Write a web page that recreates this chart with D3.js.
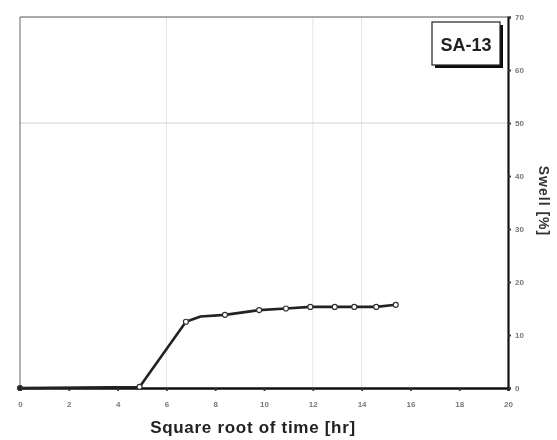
<!DOCTYPE html>
<html>
<head>
<meta charset="utf-8">
<script src="https://cdn.jsdelivr.net/npm/d3@7"></script>
<style>
  html, body { margin: 0; padding: 0; background: #fff; }
  svg { display: block; font-family: "Liberation Sans", Arial, sans-serif; }
</style>
</head>
<body>
<svg id="chart" width="557" height="440"></svg>
<script>
// Swell test, sample SA-13: swell (%) against square root of time (hr)
const sqrtTime = [0, 4.9, 6.8, 7.4, 8.4, 9.8, 10.9, 11.9, 12.9, 13.7, 14.6, 15.4];
const swell    = [0, 0.2, 12.5, 13.5, 13.8, 14.7, 15.0, 15.3, 15.3, 15.3, 15.3, 15.7];
const markerShown = [true, true, true, false, true, true, true, true, true, true, true, true];
const xTicks = [0, 2, 4, 6, 8, 10, 12, 14, 16, 18, 20];
const yTicks = [0, 10, 20, 30, 40, 50, 60, 70];
const gridX = [6, 12, 14];
const gridY = [50];
const sampleName = "SA-13";
const xTitle = "Square root of time [hr]";
const yTitle = "Swell [%]";

const svg = d3.select("#chart");
const plotLeft = 20, plotRight = 508, plotTop = 17, plotBottom = 388;

const x = d3.scaleLinear().domain([0, 20]).range([plotLeft, plotRight]);
const y = d3.scaleLinear().domain([0, 70]).range([plotBottom, plotTop]);

const soft = svg.append("defs").append("filter").attr("id", "soft");
soft.append("feGaussianBlur").attr("stdDeviation", 0.5);

const g = svg.append("g").attr("filter", "url(#soft)");

// faint grid lines
g.selectAll(".gx").data(gridX).join("line")
  .attr("x1", d => x(d)).attr("x2", d => x(d))
  .attr("y1", plotTop).attr("y2", plotBottom)
  .attr("stroke", "#e6e6e6").attr("stroke-width", 1);
g.selectAll(".gy").data(gridY).join("line")
  .attr("x1", plotLeft).attr("x2", plotRight)
  .attr("y1", d => y(d)).attr("y2", d => y(d))
  .attr("stroke", "#d0d0d0").attr("stroke-width", 1);

// frame: top and left edges
g.append("line").attr("x1", plotLeft).attr("x2", plotRight).attr("y1", plotTop).attr("y2", plotTop)
  .attr("stroke", "#555").attr("stroke-width", 1.2);
g.append("line").attr("x1", plotLeft).attr("x2", plotLeft).attr("y1", plotTop).attr("y2", plotBottom)
  .attr("stroke", "#666").attr("stroke-width", 1);

// bottom axis
const xAxis = g.append("g").attr("transform", `translate(0,${plotBottom})`)
  .call(d3.axisBottom(x).tickValues(xTicks).tickSize(3).tickPadding(10).tickFormat(d3.format("d")));
xAxis.select(".domain").attr("stroke", "#111").attr("stroke-width", 2.4);
xAxis.selectAll(".tick line").attr("stroke", "#333").attr("stroke-width", 1.8);
xAxis.selectAll("text").attr("font-size", 8).attr("font-weight", "bold").attr("fill", "#777");

// right axis
const yAxis = g.append("g").attr("transform", `translate(${plotRight},0)`)
  .call(d3.axisRight(y).tickValues(yTicks).tickSize(3).tickPadding(4).tickFormat(d3.format("d")));
yAxis.select(".domain").attr("stroke", "#111").attr("stroke-width", 2.2);
yAxis.selectAll(".tick line").attr("stroke", "#333").attr("stroke-width", 1.8);
yAxis.selectAll("text").attr("font-size", 8).attr("font-weight", "bold").attr("fill", "#777");

// data line and markers
const line = d3.line().x((d, i) => x(sqrtTime[i])).y(d => y(d));
g.append("path").datum(swell)
  .attr("d", line)
  .attr("fill", "none").attr("stroke", "#222").attr("stroke-width", 2.6)
  .attr("stroke-linejoin", "round");
const pts = swell.map((v, i) => ({ t: sqrtTime[i], v, i })).filter(p => markerShown[p.i]);
g.selectAll(".pt").data(pts).join("circle")
  .attr("cx", d => x(d.t)).attr("cy", d => y(d.v))
  .attr("r", 2.5).attr("fill", d => d.i === 0 ? "#222" : "#fff")
  .attr("stroke", "#333").attr("stroke-width", 1.2);

// sample label box with drop shadow
const bx = 432, by = 22, bw = 68, bh = 43;
g.append("rect").attr("x", bx + 3).attr("y", by + 3).attr("width", bw).attr("height", bh)
  .attr("fill", "#111");
g.append("rect").attr("x", bx).attr("y", by).attr("width", bw).attr("height", bh)
  .attr("fill", "#fff").attr("stroke", "#222").attr("stroke-width", 1.2);
g.append("text").attr("x", bx + bw / 2).attr("y", by + bh / 2 + 7)
  .attr("text-anchor", "middle").attr("font-size", 18).attr("font-weight", "bold")
  .attr("fill", "#222").text(sampleName);

// axis titles
g.append("text").attr("x", 253).attr("y", 433)
  .attr("text-anchor", "middle").attr("font-size", 17).attr("font-weight", "bold")
  .attr("letter-spacing", 0.7).attr("fill", "#222").text(xTitle);
g.append("text").attr("transform", "translate(539,201) rotate(90)")
  .attr("text-anchor", "middle").attr("font-size", 14).attr("font-weight", "bold")
  .attr("letter-spacing", 1).attr("fill", "#333").text(yTitle);
</script>
</body>
</html>
